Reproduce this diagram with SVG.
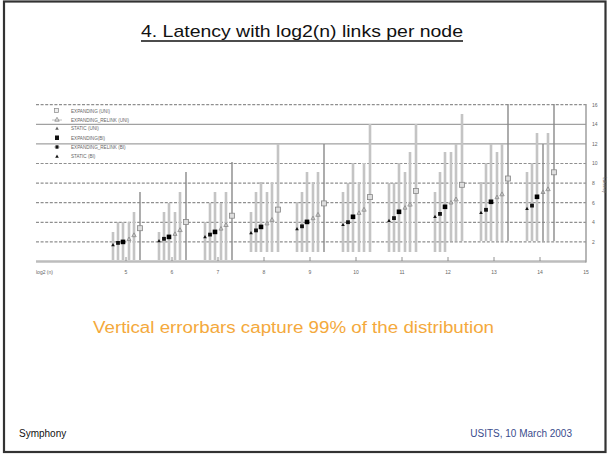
<svg xmlns="http://www.w3.org/2000/svg" xmlns:xlink="http://www.w3.org/1999/xlink" width="608" height="454" viewBox="0 0 608 454">
  <style>
    .title { font-family: "Liberation Sans", Arial, sans-serif; font-size: 17px; fill: #111; }
    .note { font-family: "Liberation Sans", Arial, sans-serif; font-size: 16px; fill: #F4A93C; }
    .foot { font-family: "Liberation Sans", Arial, sans-serif; font-size: 10px; }
    .tiny { font-family: "Liberation Sans", Arial, sans-serif; font-size: 5px; fill: #666; }
    .leg { font-family: "Liberation Sans", Arial, sans-serif; font-size: 4.6px; fill: #666; }
    .grid-d { stroke: #8f8f8f; stroke-width: 1.2; stroke-dasharray: 3 1.6; fill: none; }
    .grid-s { stroke: #8a8a8a; stroke-width: 1; fill: none; }
    .bar-l { stroke: #c4c4c4; stroke-width: 2.6; fill: none; }
    .bar-d { stroke: #8a8a8a; stroke-width: 1.4; fill: none; }
  </style>
  <defs>
    <!-- data markers, centred on (0,0) -->
    <polygon id="m0" points="0,-1.8 1.8,1.4 -1.8,1.4" fill="#111"/>
    <rect id="m1" x="-1.9" y="-1.9" width="3.8" height="3.8" fill="#111"/>
    <rect id="m2" x="-2.3" y="-2.3" width="4.6" height="4.6" fill="#000"/>
    <polygon id="m3" points="0,-2 2,1.6 -2,1.6" fill="none" stroke="#888" stroke-width="0.8"/>
    <polygon id="m4" points="0,-2.2 2.2,1.7 -2.2,1.7" fill="none" stroke="#888" stroke-width="0.8"/>
    <rect id="m5" x="-2.5" y="-2.5" width="5" height="5" fill="#ddd" stroke="#888" stroke-width="0.8"/>
  </defs>

  <!-- slide frame -->
  <rect x="0" y="0" width="608" height="454" fill="#fff"/>
  <rect x="4" y="1.5" width="601.5" height="450.5" fill="none" stroke="#333" stroke-width="2.2"/>

  <!-- title -->
  <text class="title" x="141" y="37" textLength="322" lengthAdjust="spacingAndGlyphs">4. Latency with log2(n) links per node</text>
  <line x1="141" y1="41" x2="463" y2="41" stroke="#111" stroke-width="1.3"/>

  <!-- chart: gridlines -->
  <g id="grid">
    <path class="grid-d" d="M36 104.7H586M36 163.5H586M36 183.1H586M36 202.7H586M36 222.3H586M36 241.9H586"/>
    <path class="grid-s" d="M36 124.3H586M36 143.9H586"/>
    <line x1="36" y1="261.5" x2="586" y2="261.5" stroke="#bdbdbd" stroke-width="2.4"/>
    <line x1="586" y1="104" x2="586" y2="262.5" stroke="#999" stroke-width="1.4"/>
    <path stroke="#777" stroke-width="0.8" d="M126 257V261M172 257V261M218 257V261M264 257V261M310 257V261M356 257V261M402 257V261M448 257V261M494 257V261M540 257V261"/>
  </g>

  <!-- chart: error bars -->
  <g id="errorbars">
    <path class="bar-l" d="
      M113 232V260M118 222V260M123 222V260M129 222V260M134 212V260
      M159 232V260M164 212V260M169 203V260M175 212V260M180 192V260
      M205 222V260M210 203V260M215 192V260M221 203V260M226 192V260
      M251 212V252M256 192V252M261 182V252M267 192V252M272 183V252M278 144V252
      M297 202V252M302 192V252M307 172V252M313 182V252M318 172V252
      M343 192V252M348 183V252M353 163V252M359 182V252M364 163V252M370 124V252
      M389 183V252M394 183V252M399 163V252M405 172V252M410 152V252M416 124V252
      M435 192V252M440 172V252M445 152V252M451 152V241M456 144V241M462 114V241
      M481 182V241M486 163V241M491 144V241M497 152V241M502 144V241
      M527 172V241M532 163V241M537 133V241M548 133V241"/>
    <path class="bar-d" d="M140 192V260M186 172V260M232 162V260M324 144V252M508 104V241M543 144V241M554 104V241"/>
  </g>

  <!-- chart: data points -->
  <g id="points">
    <use xlink:href="#m0" x="113" y="244.8"/><use xlink:href="#m1" x="118" y="242.9"/><use xlink:href="#m2" x="123" y="241.9"/><use xlink:href="#m3" x="129" y="239"/><use xlink:href="#m4" x="134" y="235"/><use xlink:href="#m5" x="140" y="228.2"/>
    <use xlink:href="#m0" x="159" y="240.8"/><use xlink:href="#m1" x="164" y="238.8"/><use xlink:href="#m2" x="169" y="236.9"/><use xlink:href="#m3" x="175" y="233.8"/><use xlink:href="#m4" x="180" y="229.9"/><use xlink:href="#m5" x="186" y="222"/>
    <use xlink:href="#m0" x="205" y="236.8"/><use xlink:href="#m1" x="210" y="234.6"/><use xlink:href="#m2" x="215" y="231.9"/><use xlink:href="#m3" x="221" y="228.5"/><use xlink:href="#m4" x="226" y="224.8"/><use xlink:href="#m5" x="232" y="215.7"/>
    <use xlink:href="#m0" x="251" y="232.8"/><use xlink:href="#m1" x="256" y="230.4"/><use xlink:href="#m2" x="261" y="226.9"/><use xlink:href="#m3" x="267" y="223.3"/><use xlink:href="#m4" x="272" y="219.7"/><use xlink:href="#m5" x="278" y="209.6"/>
    <use xlink:href="#m0" x="297" y="228.8"/><use xlink:href="#m1" x="302" y="226.3"/><use xlink:href="#m2" x="307" y="221.9"/><use xlink:href="#m3" x="313" y="218.1"/><use xlink:href="#m4" x="318" y="214.6"/><use xlink:href="#m5" x="324" y="203.4"/>
    <use xlink:href="#m0" x="343" y="224.7"/><use xlink:href="#m1" x="348" y="222.2"/><use xlink:href="#m2" x="353" y="216.8"/><use xlink:href="#m3" x="359" y="212.8"/><use xlink:href="#m4" x="364" y="209.5"/><use xlink:href="#m5" x="370" y="197.1"/>
    <use xlink:href="#m0" x="389" y="220.6"/><use xlink:href="#m1" x="394" y="218.1"/><use xlink:href="#m2" x="399" y="211.8"/><use xlink:href="#m3" x="405" y="207.6"/><use xlink:href="#m4" x="410" y="204.4"/><use xlink:href="#m5" x="416" y="190.9"/>
    <use xlink:href="#m0" x="435" y="216.6"/><use xlink:href="#m1" x="440" y="213.9"/><use xlink:href="#m2" x="445" y="206.8"/><use xlink:href="#m3" x="451" y="202.4"/><use xlink:href="#m4" x="456" y="199.2"/><use xlink:href="#m5" x="462" y="184.8"/>
    <use xlink:href="#m0" x="481" y="212.6"/><use xlink:href="#m1" x="486" y="209.8"/><use xlink:href="#m2" x="491" y="201.8"/><use xlink:href="#m3" x="497" y="197.1"/><use xlink:href="#m4" x="502" y="194.1"/><use xlink:href="#m5" x="508" y="178.5"/>
    <use xlink:href="#m0" x="527" y="208.6"/><use xlink:href="#m1" x="532" y="205.6"/><use xlink:href="#m2" x="537" y="196.8"/><use xlink:href="#m3" x="543" y="191.9"/><use xlink:href="#m4" x="548" y="189"/><use xlink:href="#m5" x="554" y="172.3"/>
  </g>

  <!-- chart: legend -->
  <g id="legend">
    <rect x="54.5" y="108.5" width="4" height="4" fill="#eee" stroke="#888" stroke-width="0.7"/>
    <path d="M52 120H62" stroke="#999" stroke-width="0.6"/>
    <use xlink:href="#m4" x="57" y="119.5"/>
    <polygon points="57,126.5 58.8,129.8 55.2,129.8" fill="#666"/>
    <rect x="55" y="135.5" width="4" height="4.5" fill="#111"/>
    <path d="M54 147H60" stroke="#999" stroke-width="0.6"/>
    <rect x="55.5" y="145.3" width="3" height="3.4" fill="#111"/>
    <polygon points="57,154.5 58.8,157.8 55.2,157.8" fill="#111"/>
    <text class="leg" x="71" y="112.5">EXPANDING (UNI)</text>
    <text class="leg" x="71" y="121.5">EXPANDING_RELINK (UNI)</text>
    <text class="leg" x="71" y="130">STATIC (UNI)</text>
    <text class="leg" x="71" y="139.5">EXPANDING(BI)</text>
    <text class="leg" x="71" y="148.5">EXPANDING_RELINK (BI)</text>
    <text class="leg" x="71" y="158">STATIC (BI)</text>
  </g>

  <!-- chart: axis labels -->
  <g id="axis-labels" text-anchor="middle">
    <text class="tiny" x="36" y="274" text-anchor="start">log2 (n)</text>
    <text class="tiny" x="126" y="274">5</text>
    <text class="tiny" x="172" y="274">6</text>
    <text class="tiny" x="218" y="274">7</text>
    <text class="tiny" x="264" y="274">8</text>
    <text class="tiny" x="310" y="274">9</text>
    <text class="tiny" x="356" y="274">10</text>
    <text class="tiny" x="402" y="274">11</text>
    <text class="tiny" x="448" y="274">12</text>
    <text class="tiny" x="494" y="274">13</text>
    <text class="tiny" x="540" y="274">14</text>
    <text class="tiny" x="586" y="274">15</text>
    <text class="tiny" x="592" y="106.5" text-anchor="start">16</text>
    <text class="tiny" x="592" y="126" text-anchor="start">14</text>
    <text class="tiny" x="592" y="145.5" text-anchor="start">12</text>
    <text class="tiny" x="592" y="165" text-anchor="start">10</text>
    <text class="tiny" x="592" y="185" text-anchor="start">8</text>
    <text class="tiny" x="592" y="204.5" text-anchor="start">6</text>
    <text class="tiny" x="592" y="224" text-anchor="start">4</text>
    <text class="tiny" x="592" y="243.5" text-anchor="start">2</text>
    <text class="tiny" x="0" y="0" transform="translate(603 185) rotate(90)" style="font-size:4.5px">Latency</text>
  </g>

  <!-- caption and footer -->
  <text class="note" x="93" y="333" textLength="401" lengthAdjust="spacingAndGlyphs">Vertical errorbars capture 99% of the distribution</text>
  <text class="foot" x="19" y="437" fill="#111">Symphony</text>
  <text class="foot" x="572" y="437" fill="#3A4C8C" text-anchor="end">USITS, 10 March 2003</text>
</svg>
